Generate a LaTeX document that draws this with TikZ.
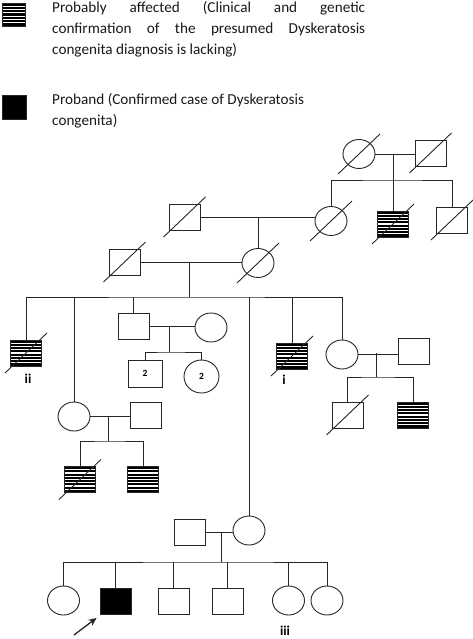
\documentclass[tikz,border=0pt]{standalone}
\usepackage{fontspec}
\setmainfont{Carlito}
\usetikzlibrary{shapes.geometric,calc,arrows.meta}
\newcommand\slashit[1]{\draw[ln] ($(#1.center)+(-21,20)$) -- ($(#1.center)+(21,-20)$);}
\begin{document}
\begin{tikzpicture}[x=1pt,y=-1pt,
  ln/.style={draw=black!85, line width=0.9pt},
  male/.style={rectangle, draw=black!85, line width=0.9pt, minimum width=31pt, minimum height=26pt, inner sep=0pt, fill=white},
  female/.style={ellipse, draw=black!85, line width=0.9pt, minimum width=32pt, minimum height=29pt, inner sep=0pt, fill=white},
  hatch/.style 2 args={fill=black, path picture={
     \foreach \k in {1,...,#1}{\draw[white,line width=1.1pt]
       ([yshift=-\k*#2 pt]path picture bounding box.north west) --
       ([yshift=-\k*#2 pt]path picture bounding box.north east);}}},
  hsq/.style={hatch={7}{3.25}},
  txt/.style={anchor=base west, inner sep=0pt, text=black!90, font=\fontsize{15.2}{21}\selectfont},
  lab/.style={inner sep=0pt, text=black, font=\fontsize{13.5}{15}\selectfont\bfseries},
  num/.style={font=\fontsize{9.5}{10}\selectfont\bfseries}
]
\useasboundingbox (0,0) rectangle (472,639);

% legend
\node[male, hatch={6}{3.28}, minimum width=23pt, minimum height=23pt] (leg1) at (13.5,14.5) {};
\node[male, fill=black, minimum width=24pt, minimum height=24pt] (leg2) at (14,107) {};
\node[txt] (t1) at (52,13) {\makebox[313pt][s]{Probably affected (Clinical and genetic}};
\node[txt] (t2) at (52,34) {\makebox[313pt][s]{confirmation of the presumed Dyskeratosis}};
\node[txt] (t3) at (52,55) {congenita diagnosis is lacking)};
\node[txt] (t4) at (52,105) {Proband (Confirmed case of Dyskeratosis};
\node[txt] (t5) at (52,126) {congenita)};

% generation I
\node[female] (A) at (359,154) {};
\node[male] (B) at (430.5,153) {};
\slashit{A}\slashit{B}
\draw[ln] (A.east) -- (A.east -| B.west);
\coordinate (m1) at (393,154);
\coordinate (s1) at (393,180);
\node[female] (C) at (331,221) {};
\node[male, hsq] (D) at (393,224) {};
\node[male] (E) at (452,220) {};
\slashit{C}\slashit{D}\slashit{E}
\draw[ln] (C.north) |- (s1) -| (E.north);
\draw[ln] (m1) -- (D.north);

% generation II
\node[male] (F) at (184.5,217) {};
\slashit{F}
\draw[ln] (F.east) -- (F.east -| C.west);
\coordinate (m2) at (258,217);
\node[female] (G) at (258,263) {};
\slashit{G}
\draw[ln] (m2) -- (G.north);
\node[male] (H) at (124.5,262) {};
\slashit{H}
\draw[ln] (H.east) -- (H.east -| G.west);
\coordinate (m3) at (189,262);
\coordinate (s3) at (189,297);
\draw[ln] (m3) -- (s3);

% generation III
\node[male, hsq] (I) at (26,353) {};
\slashit{I}
\node[female] (J) at (74,416.5) {};
\node[male] (K) at (133.5,326) {};
\node[female] (M) at (249,530.5) {};
\node[male, hsq] (N) at (292,356) {};
\slashit{N}
\node[female] (O) at (342,354.5) {};
\draw[ln] (I.north) |- (s3) -| (O.north);
\draw[ln] (J.north) -- (J.north |- s3);
\draw[ln] (K.north) -- (K.north |- s3);
\draw[ln] (M.north) -- (M.north |- s3);
\draw[ln] (N.north) -- (N.north |- s3);
\node[lab] (lii) at (28,379) {ii};
\node[lab] (li) at (284,380) {i};

% J family
\node[male] (Q) at (146,415) {};
\draw[ln] (J.east) -- (J.east -| Q.west);
\coordinate (m4) at (108,416.5);
\coordinate (s4) at (108,441);
\draw[ln] (m4) -- (s4);
\node[male, hsq] (R) at (80,479.5) {};
\slashit{R}
\node[male, hsq] (S) at (143,479.5) {};
\draw[ln] (R.north) |- (s4) -| (S.north);

% K family
\node[female] (L) at (211,327.5) {};
\draw[ln] (K.east) -- (K.east -| L.west);
\coordinate (m5) at (169,326);
\coordinate (s5) at (169,352);
\draw[ln] (m5) -- (s5);
\node[male, minimum width=34pt, minimum height=27pt, num] (T) at (145,373.5) {2};
\node[female, minimum width=35pt, minimum height=33pt, num] (U) at (201.5,376.5) {2};
\draw[ln] (T.north) |- (s5) -| (U.north);

% O family
\node[male] (P) at (413.5,351) {};
\draw[ln] (O.east) -- (O.east -| P.west);
\coordinate (m6) at (376,353);
\coordinate (s6) at (376,377);
\draw[ln] (m6) -- (s6);
\node[male] (V) at (347.5,415) {};
\slashit{V}
\node[male, hsq] (W) at (413,415) {};
\draw[ln] (V.north) |- (s6) -| (W.north);

% M family
\node[male] (X) at (189.5,532) {};
\draw[ln] (X.east) -- (X.east -| M.west);
\coordinate (m7) at (221,532);
\coordinate (s7) at (221,562);
\draw[ln] (m7) -- (s7);
\node[female] (c1) at (63.5,600.5) {};
\node[male, fill=black] (c2) at (115.5,601.5) {};
\node[male] (c3) at (173.5,601.5) {};
\node[male] (c4) at (227.5,601.5) {};
\node[female] (c5) at (288.5,600.5) {};
\node[female] (c6) at (327,600.5) {};
\draw[ln] (c1.north) |- (s7) -| (c6.north);
\foreach \c in {c2,c3,c4,c5} \draw[ln] (\c.north) -- (\c.north |- s7);
\node[lab] (liii) at (285,630.5) {iii};
\coordinate (atail) at (74,635);
\draw[draw=black!85, line width=1.3pt, -{Stealth[length=8pt,width=7pt]}] (atail) -- ($(c2.south west)+(-3,3)$);
\end{tikzpicture}
\end{document}
